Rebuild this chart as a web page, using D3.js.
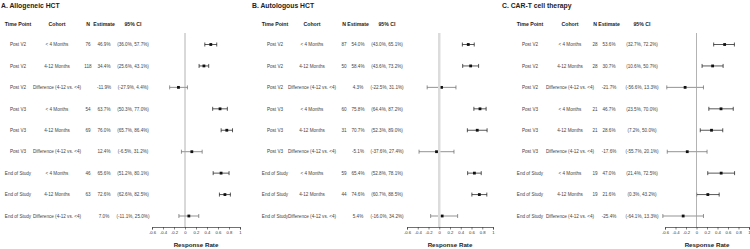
<!DOCTYPE html>
<html>
<head>
  <meta charset="utf-8">
  <script src="https://cdn.jsdelivr.net/npm/d3@7"></script>
  <style>
    body { margin: 0; background: #fff; }
    svg text { font-family: "Liberation Sans", Arial, sans-serif; }
  </style>
</head>
<body>
  <svg id="mainsvg" width="750" height="249"></svg>
  <script>
    // row labels shared by the three panels
    const timePoints = ["Post V2", "Post V2", "Post V2", "Post V3", "Post V3", "Post V3", "End of Study", "End of Study", "End of Study"];
    const cohorts = ["< 4 Months", "4-12 Months", "Difference (4-12 vs. <4)", "< 4 Months", "4-12 Months", "Difference (4-12 vs. <4)", "< 4 Months", "4-12 Months", "Difference (4-12 vs. <4)"];
    const headers = ["Time Point", "Cohort", "N", "Estimate", "95% CI"];
    const titles = ["A. Allogeneic HCT", "B. Autologous HCT", "C. CAR-T cell therapy"];
    const xTicks = [-0.6, -0.4, -0.2, 0, 0.2, 0.4, 0.6, 0.8, 1];

    // A. Allogeneic HCT
    const allo_n = [76, 118, null, 54, 69, null, 46, 63, null];
    const allo_est = [46.9, 34.4, -11.9, 63.7, 76.0, 12.4, 65.6, 72.6, 7.0];
    const allo_lo = [36.0, 25.6, -27.9, 50.3, 65.7, -6.5, 51.2, 62.6, -11.1];
    const allo_hi = [57.7, 43.1, 4.4, 77.0, 86.4, 31.2, 80.1, 82.5, 25.0];

    // B. Autologous HCT
    const auto_n = [87, 50, null, 60, 31, null, 59, 44, null];
    const auto_est = [54.0, 58.4, 4.3, 75.8, 70.7, -5.1, 65.4, 74.6, 5.4];
    const auto_lo = [43.0, 43.6, -22.5, 64.4, 52.3, -37.6, 52.8, 60.7, -16.0];
    const auto_hi = [65.1, 73.2, 31.1, 87.2, 89.0, 27.4, 78.1, 88.5, 34.2];

    // C. CAR-T cell therapy
    const cart_n = [28, 28, null, 21, 21, null, 19, 19, null];
    const cart_est = [53.6, 30.7, -21.7, 46.7, 28.6, -17.6, 47.0, 21.6, -25.4];
    const cart_lo = [32.7, 10.6, -56.6, 23.5, 7.2, -55.7, 21.4, 0.3, -64.1];
    const cart_hi = [72.2, 50.7, 13.3, 70.0, 50.0, 20.1, 72.5, 43.2, 13.3];

    const svg = d3.select('#mainsvg');
    const rowY = d3.scalePoint().domain(d3.range(9)).range([44.5, 216]);
    const axisY = 227;
    const fmt = v => v.toFixed(1) + '%';

    // layout of each panel: title x, text column centres, plot range, zero line style
    const panels = [
      { title: titles[0], n: allo_n, est: allo_est, lo: allo_lo, hi: allo_hi,
        tx: 1, cols: [18, 57, 88, 104, 133], plot: [152, 240], zero: { c: '#a0a0a0', w: 0.8 } },
      { title: titles[1], n: auto_n, est: auto_est, lo: auto_lo, hi: auto_hi,
        tx: 252, cols: [275, 312, 344, 358, 387], plot: [407, 493], zero: { c: '#dcdcdc', w: 2.5 } },
      { title: titles[2], n: cart_n, est: cart_est, lo: cart_lo, hi: cart_hi,
        tx: 502, cols: [530, 570, 595, 609, 642], plot: [665, 749], zero: { c: '#a0a0a0', w: 0.8 } }
    ];

    panels.forEach(p => {
      const g = svg.append('g');
      const x = d3.scaleLinear().domain([-0.6, 1]).range(p.plot);

      g.append('text').attr('x', p.tx).attr('y', 7.5)
        .attr('font-size', 6.8).attr('font-weight', 'bold').attr('fill', '#222')
        .text(p.title);

      g.selectAll('.hdr').data(headers).enter().append('text')
        .attr('class', 'hdr')
        .attr('x', (d, i) => p.cols[i]).attr('y', 26)
        .attr('text-anchor', 'middle')
        .attr('font-size', 5.2).attr('font-weight', 'bold').attr('fill', '#222')
        .text(d => d);

      const rows = d3.range(9).map(i => ({
        tp: timePoints[i], co: cohorts[i], n: p.n[i],
        est: p.est[i], lo: p.lo[i], hi: p.hi[i], diff: p.n[i] === null
      }));

      const cells = r => [r.tp, r.co, r.n === null ? '' : r.n, fmt(r.est), '(' + fmt(r.lo) + ', ' + fmt(r.hi) + ')'];
      const rg = g.selectAll('.row').data(rows).enter().append('g')
        .attr('transform', (d, i) => `translate(0, ${rowY(i)})`);
      rg.selectAll('text').data(d => cells(d)).enter().append('text')
        .attr('x', (d, i) => p.cols[i]).attr('y', 1.7)
        .attr('text-anchor', 'middle')
        .attr('font-size', 4.6).attr('fill', '#444')
        .text(d => d);

      // zero reference line
      g.append('line')
        .attr('x1', x(0)).attr('x2', x(0)).attr('y1', 33).attr('y2', axisY)
        .attr('stroke', p.zero.c).attr('stroke-width', p.zero.w);

      // confidence intervals
      const ci = rg.append('g').attr('stroke', d => d.diff ? '#666' : '#111').attr('stroke-width', 0.7);
      ci.append('line').attr('x1', d => x(d.lo / 100)).attr('x2', d => x(d.hi / 100));
      ci.append('line').attr('x1', d => x(d.lo / 100)).attr('x2', d => x(d.lo / 100)).attr('y1', -2).attr('y2', 2);
      ci.append('line').attr('x1', d => x(d.hi / 100)).attr('x2', d => x(d.hi / 100)).attr('y1', -2).attr('y2', 2);
      rg.append('rect')
        .attr('x', d => x(d.est / 100) - 1.4).attr('y', -1.4)
        .attr('width', 2.8).attr('height', 2.8).attr('fill', '#111');

      // x axis
      const ax = g.append('g').attr('transform', `translate(0, ${axisY})`)
        .call(d3.axisBottom(x).tickValues(xTicks).tickSize(2.5).tickPadding(1.5)
          .tickFormat(d => d === 0 || d === 1 ? String(d) : d.toFixed(1)));
      ax.select('.domain').attr('stroke', '#333').attr('stroke-width', 0.7);
      ax.selectAll('.tick line').attr('stroke', '#333').attr('stroke-width', 0.6);
      ax.selectAll('.tick text').attr('font-size', 4.2).attr('fill', '#333')
        .attr('font-family', '"Liberation Sans", Arial, sans-serif');

      g.append('text').attr('x', (p.plot[0] + p.plot[1]) / 2).attr('y', 247)
        .attr('text-anchor', 'middle')
        .attr('font-size', 6.2).attr('font-weight', 'bold').attr('fill', '#222')
        .text('Response Rate');
    });
  </script>
</body>
</html>
